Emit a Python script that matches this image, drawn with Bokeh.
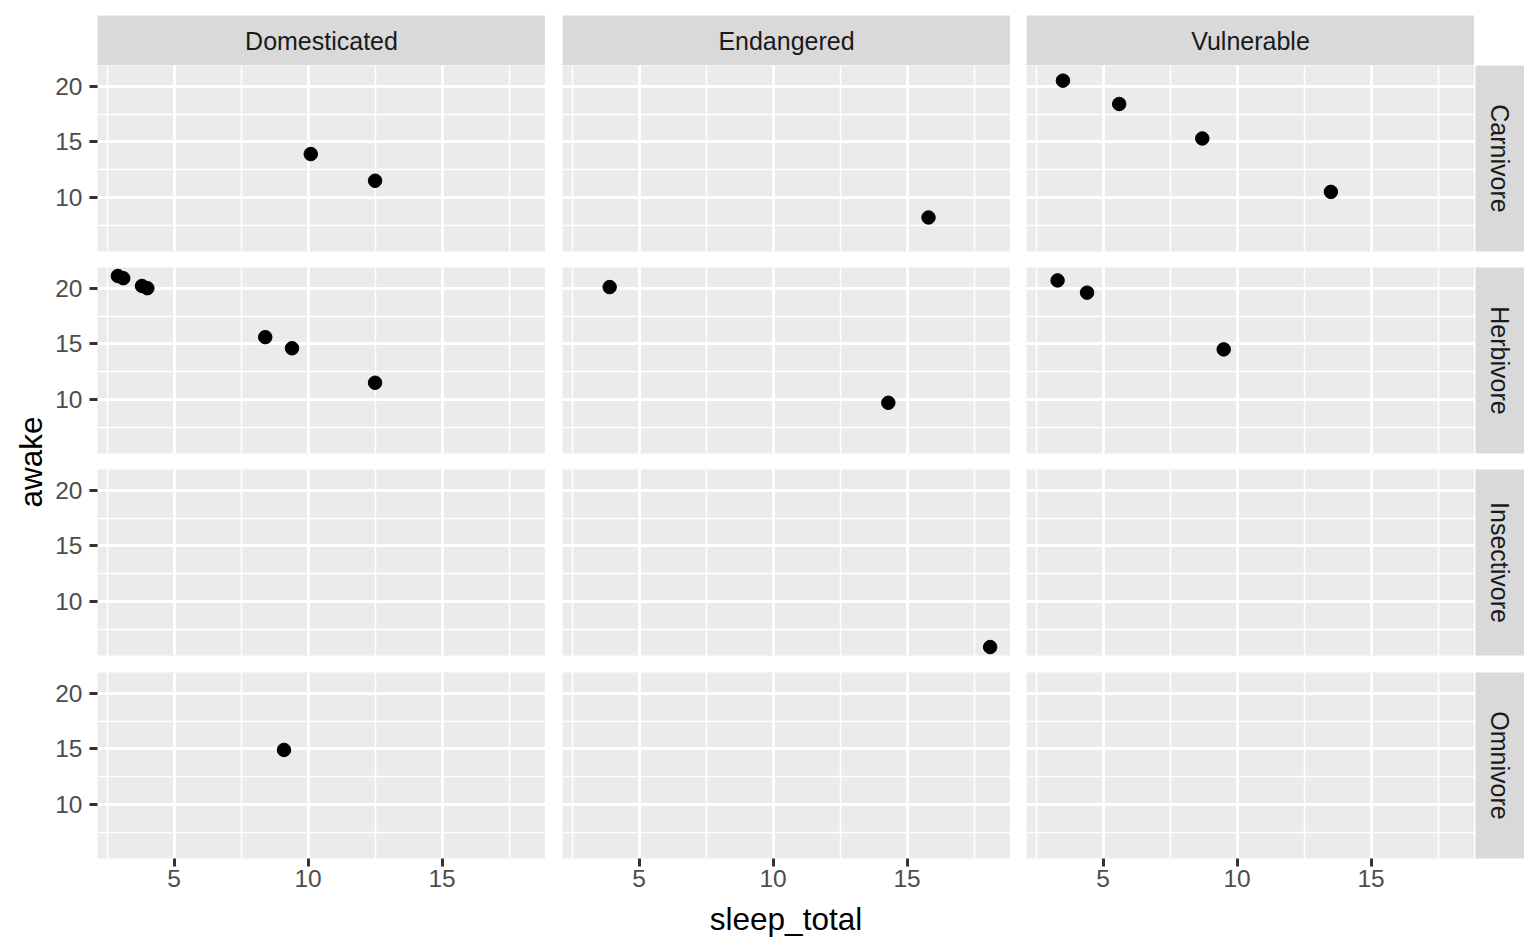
import math
from bokeh.plotting import figure
from bokeh.layouts import row, column
from bokeh.models import Range1d, FixedTicker
from bokeh.core.properties import value
from bokeh.embed import file_html
from bokeh.resources import INLINE

# ---------------- data ----------------
conservation = ["Domesticated", "Domesticated",
                "Endangered",
                "Vulnerable", "Vulnerable", "Vulnerable", "Vulnerable",
                "Domesticated", "Domesticated", "Domesticated", "Domesticated",
                "Domesticated", "Domesticated", "Domesticated",
                "Endangered", "Endangered",
                "Vulnerable", "Vulnerable", "Vulnerable",
                "Endangered",
                "Domesticated"]
vore = ["Carnivore", "Carnivore",
        "Carnivore",
        "Carnivore", "Carnivore", "Carnivore", "Carnivore",
        "Herbivore", "Herbivore", "Herbivore", "Herbivore",
        "Herbivore", "Herbivore", "Herbivore",
        "Herbivore", "Herbivore",
        "Herbivore", "Herbivore", "Herbivore",
        "Insectivore",
        "Omnivore"]
sleep_total = [10.1, 12.5,
               15.8,
               3.5, 5.6, 8.7, 13.5,
               2.9, 3.1, 3.8, 4.0, 8.4, 9.4, 12.5,
               3.9, 14.3,
               3.3, 4.4, 9.5,
               18.1,
               9.1]
awake = [13.9, 11.5,
         8.2,
         20.5, 18.4, 15.3, 10.5,
         21.1, 20.9, 20.2, 20.0, 15.6, 14.6, 11.5,
         20.1, 9.7,
         20.7, 19.6, 14.5,
         5.9,
         14.9]

col_levels = ["Domesticated", "Endangered", "Vulnerable"]
row_levels = ["Carnivore", "Herbivore", "Insectivore", "Omnivore"]
x_ticks = [5, 10, 15]
x_minor = [2.5, 7.5, 12.5, 17.5]
y_ticks = [10, 15, 20]
y_minor = [7.5, 12.5, 17.5]
x_title = "sleep_total"
y_title = "awake"

# ---------------- style / layout ----------------
FONT = "Liberation Sans"
PANEL_BG = "#EBEBEB"
STRIP_BG = "#D9D9D9"
PANEL_W = 448
PANEL_H = 186
STRIP_H = 50
STRIP_W = 49
TOP_PAD = 15
LEFT_B = [49, 17, 16]          # left border of each column figure
BOTTOM_B = [16, 16, 17, 41]    # bottom border of each row figure
YT_W = 48                      # width of y-title figure
XT_H = 51                      # height of x-title figure
TICK_SIZE = "24.5px"
STRIP_SIZE = "25px"
TITLE_PX = 31.5
TITLE_SIZE = f"{TITLE_PX}px"
MID = 0.3465 * TITLE_PX        # distance alphabetic baseline -> middle


def expand(vals, frac=0.05):
    lo, hi = min(vals), max(vals)
    d = (hi - lo) * frac
    return lo - d, hi + d


x0, x1 = expand(sleep_total)
y0, y1 = expand(awake)
XR = Range1d(x0, x1)
YR = Range1d(y0, y1)


def base_fig(**kw):
    p = figure(output_backend="svg", toolbar_location=None, min_border=0, **kw)
    p.min_border_left = 0
    p.min_border_right = 0
    p.min_border_top = 0
    p.min_border_bottom = 0
    p.outline_line_color = None
    p.border_fill_color = "white"
    return p


def panel(ci, ri):
    p = base_fig(frame_width=PANEL_W, frame_height=PANEL_H,
                 x_range=XR, y_range=YR,
                 x_axis_location="below" if ri == len(row_levels) - 1 else None,
                 y_axis_location="left" if ci == 0 else None)
    p.min_border_left = LEFT_B[ci]
    p.min_border_bottom = BOTTOM_B[ri]
    p.background_fill_color = PANEL_BG
    p.xgrid.ticker = FixedTicker(ticks=x_ticks, minor_ticks=x_minor)
    p.ygrid.ticker = FixedTicker(ticks=y_ticks, minor_ticks=y_minor)
    for g in (p.xgrid, p.ygrid):
        g.grid_line_color = "white"
        g.grid_line_width = 3
        g.minor_grid_line_color = "white"
        g.minor_grid_line_width = 1.5
    for ax, ticks, standoff in ((p.xaxis, x_ticks, 3), (p.yaxis, y_ticks, 7)):
        ax.ticker = FixedTicker(ticks=ticks)
        ax.axis_line_color = None
        ax.major_tick_line_color = "#333333"
        ax.major_tick_line_width = 3
        ax.major_tick_out = 8
        ax.major_tick_in = 0
        ax.minor_tick_line_color = None
        ax.major_label_text_font = FONT
        ax.major_label_text_font_size = TICK_SIZE
        ax.major_label_text_color = "#4D4D4D"
        ax.major_label_standoff = standoff
    xs = [s for s, c, v in zip(sleep_total, conservation, vore)
          if c == col_levels[ci] and v == row_levels[ri]]
    ys = [a for a, c, v in zip(awake, conservation, vore)
          if c == col_levels[ci] and v == row_levels[ri]]
    p.scatter(xs, ys, size=13.5, color="black", line_color="black")
    return p


def strip_top(ci):
    p = base_fig(frame_width=PANEL_W, frame_height=STRIP_H,
                 x_range=Range1d(0, 1), y_range=Range1d(0, 1),
                 x_axis_location=None, y_axis_location=None)
    p.min_border_left = LEFT_B[ci]
    p.min_border_top = TOP_PAD
    p.background_fill_color = STRIP_BG
    p.grid.visible = False
    p.text(x=[0.5], y=[0.5], text=[col_levels[ci]], text_align="center",
           text_baseline="middle", text_font=value(FONT),
           text_font_size=STRIP_SIZE, text_color="#1A1A1A")
    return p


def strip_right(ri):
    p = base_fig(frame_width=STRIP_W, frame_height=PANEL_H,
                 x_range=Range1d(0, 1), y_range=Range1d(0, 1),
                 x_axis_location=None, y_axis_location=None)
    p.min_border_left = 1
    p.min_border_bottom = BOTTOM_B[ri]
    p.background_fill_color = STRIP_BG
    p.grid.visible = False
    p.text(x=[0.5], y=[0.5], text=[row_levels[ri]], text_align="center",
           text_baseline="middle", angle=-math.pi / 2, text_font=value(FONT),
           text_font_size=STRIP_SIZE, text_color="#1A1A1A")
    return p


top_row = row(*[strip_top(ci) for ci in range(len(col_levels))])
panel_rows = [row(*[panel(ci, ri) for ci in range(len(col_levels))], strip_right(ri))
              for ri in range(len(row_levels))]

main_w = sum(LEFT_B) + PANEL_W * len(col_levels) + 1 + STRIP_W
main_h = (TOP_PAD + STRIP_H + sum(PANEL_H + b for b in BOTTOM_B) + XT_H)

panels_left = LEFT_B[0]
panels_right = sum(LEFT_B) + PANEL_W * len(col_levels)
panels_top = TOP_PAD + STRIP_H
panels_bottom = TOP_PAD + STRIP_H + sum(PANEL_H + b for b in BOTTOM_B) - BOTTOM_B[-1]

# x-axis title (baseline ~22px above the bottom of the page area)
xt = base_fig(width=main_w, height=XT_H, x_range=Range1d(0, main_w),
              y_range=Range1d(0, XT_H), x_axis_location=None, y_axis_location=None)
xt.background_fill_color = "white"
xt.grid.visible = False
xt.text(x=[(panels_left + panels_right) / 2], y=[21 + MID], text=[x_title],
        text_align="center", text_baseline="middle", text_font=value(FONT),
        text_font_size=TITLE_SIZE, text_color="black")

# y-axis title (baseline ~6px left of the figure's right edge)
yt = base_fig(width=YT_W, height=main_h, x_range=Range1d(0, YT_W),
              y_range=Range1d(0, main_h), x_axis_location=None, y_axis_location=None)
yt.background_fill_color = "white"
yt.grid.visible = False
yt.text(x=[YT_W - 6.5 - MID], y=[main_h - (panels_top + panels_bottom) / 2], text=[y_title],
        text_align="center", text_baseline="middle", angle=math.pi / 2,
        text_font=value(FONT), text_font_size=TITLE_SIZE, text_color="black")

layout = row(yt, column(top_row, *panel_rows, xt))

open("out.html", "w").write(file_html(layout, INLINE))
